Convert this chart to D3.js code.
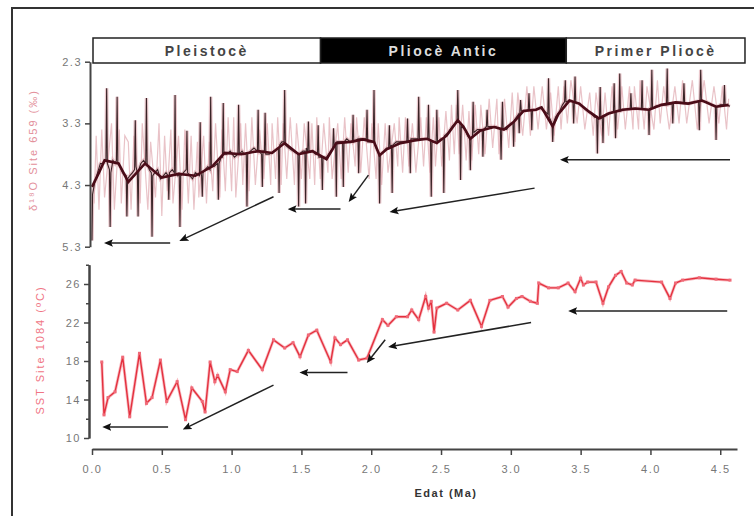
<!DOCTYPE html>
<html>
<head>
<meta charset="utf-8">
<script src="https://cdn.jsdelivr.net/npm/d3@7"></script>
<style>
body{margin:0;background:#fff;}
svg{display:block;font-family:"Liberation Sans",Arial,sans-serif;}
</style>
</head>
<body>
<svg id="canvas"></svg>
<script>
// periods in the banner (age edges in Ma)
let periodNames = ["Pleistocè", "Pliocè Antic", "Primer Pliocè"];
let periodEdges = [0, 1.63, 3.39, 4.67];
let periodFills = ["#fff", "#000", "#fff"];

let xTicks = [0, 0.5, 1.0, 1.5, 2.0, 2.5, 3.0, 3.5, 4.0, 4.5];
let d18oTicks = [2.3, 3.3, 4.3, 5.3];
let sstTicks = [10, 14, 18, 22, 26];
let sstMinorTicks = [12, 16, 20, 24, 28];

// benthic d18O record [age Ma, permil]
let d18oRaw = [
  [0.00,5.20],[0.004,4.45],[0.02,4.25],[0.04,4.10],[0.06,3.95],[0.08,3.95],
  [0.10,3.90],[0.105,2.73],[0.11,3.95],[0.125,4.05],[0.13,4.98],[0.135,4.10],
  [0.15,3.90],[0.165,3.95],[0.175,3.90],[0.18,2.87],[0.185,3.95],[0.20,4.00],[0.22,4.10],
  [0.245,4.15],[0.25,4.81],[0.255,4.20],[0.27,4.15],[0.29,4.10],
  [0.305,4.05],[0.31,3.25],[0.315,4.00],[0.325,4.10],[0.33,4.81],[0.335,4.05],
  [0.35,3.95],[0.37,3.90],[0.385,3.95],[0.39,2.89],[0.395,3.95],[0.41,4.05],
  [0.425,4.10],[0.43,5.14],[0.435,4.15],[0.45,4.10],[0.47,4.05],[0.49,4.20],
  [0.51,4.15],[0.53,4.10],[0.545,4.15],[0.55,4.54],[0.555,4.10],[0.575,4.05],
  [0.59,4.10],[0.595,2.84],[0.60,4.10],[0.615,4.15],[0.625,4.10],[0.63,4.98],[0.635,4.15],
  [0.655,4.10],[0.675,4.05],[0.68,3.42],[0.685,4.10],[0.70,4.15],[0.72,4.20],[0.74,4.10],
  [0.77,4.15],[0.775,3.28],[0.78,4.10],[0.785,4.15],[0.79,4.49],[0.795,4.10],
  [0.81,4.05],[0.83,4.00],[0.845,4.05],[0.85,2.87],[0.855,4.00],[0.875,4.00],
  [0.90,3.95],[0.905,4.54],[0.91,3.95],[0.925,3.85],[0.935,3.85],[0.94,2.97],[0.945,3.80],
  [0.965,3.80],[0.99,3.75],[1.02,3.85],[1.045,3.80],[1.05,3.00],[1.055,3.80],
  [1.075,3.75],[1.09,3.80],[1.105,3.80],[1.11,4.65],[1.115,3.80],[1.135,3.75],[1.16,3.70],
  [1.185,3.75],[1.19,3.08],[1.195,3.75],[1.215,3.80],[1.22,4.33],[1.225,3.75],
  [1.235,3.75],[1.24,3.13],[1.245,3.80],[1.27,3.80],[1.30,3.75],
  [1.335,3.70],[1.34,4.43],[1.345,3.65],[1.36,3.60],[1.375,3.60],[1.38,2.76],[1.385,3.65],
  [1.41,3.70],[1.44,3.75],[1.475,3.80],[1.48,4.65],[1.485,3.80],[1.51,3.75],
  [1.525,3.75],[1.53,4.60],[1.535,3.70],[1.545,3.75],[1.55,3.27],[1.555,3.75],
  [1.58,3.75],[1.60,3.80],[1.615,3.80],[1.62,3.33],[1.625,3.85],
  [1.645,3.85],[1.65,4.38],[1.655,3.85],[1.68,3.85],[1.71,3.75],
  [1.725,3.70],[1.73,3.38],[1.735,3.65],[1.745,3.65],[1.75,4.49],[1.755,3.60],[1.775,3.60],
  [1.795,3.60],[1.80,4.33],[1.805,3.60],[1.825,3.55],[1.85,3.60],
  [1.865,3.60],[1.87,3.16],[1.875,3.60],[1.905,3.55],[1.91,4.11],[1.915,3.55],[1.94,3.55],
  [1.965,3.55],[1.97,3.08],[1.975,3.60],[2.00,3.60],[2.015,3.60],[2.02,2.76],[2.025,3.65],
  [2.045,3.75],[2.055,3.80],[2.06,4.60],[2.065,3.80],[2.09,3.75],[2.11,3.70],
  [2.125,3.70],[2.13,3.33],[2.135,3.70],[2.145,3.65],[2.15,4.43],[2.155,3.65],
  [2.18,3.60],[2.21,3.60],[2.24,3.60],[2.255,3.60],[2.26,3.22],[2.265,3.60],
  [2.275,3.60],[2.28,4.11],[2.285,3.55],[2.31,3.55],[2.335,3.55],[2.34,2.87],[2.345,3.55],
  [2.37,3.55],[2.39,3.55],[2.405,3.55],[2.41,3.00],[2.415,3.55],[2.425,3.60],[2.43,4.49],[2.435,3.60],
  [2.455,3.60],[2.465,3.60],[2.47,3.08],[2.475,3.60],[2.50,3.55],[2.515,3.55],[2.52,4.43],[2.525,3.50],
  [2.55,3.45],[2.58,3.35],[2.60,3.30],[2.615,3.25],[2.62,2.76],[2.625,3.25],
  [2.635,3.30],[2.64,4.22],[2.645,3.35],[2.67,3.40],[2.69,3.50],
  [2.705,3.55],[2.71,4.06],[2.715,3.55],[2.725,3.50],[2.73,2.95],[2.735,3.45],
  [2.76,3.40],[2.78,3.40],[2.795,3.40],[2.80,3.84],[2.805,3.40],[2.825,3.35],[2.83,3.08],[2.835,3.35],
  [2.86,3.35],[2.89,3.35],[2.925,3.40],[2.93,3.89],[2.935,3.40],[2.94,2.95],[2.945,3.40],
  [2.97,3.40],[3.00,3.30],[3.015,3.30],[3.02,3.68],[3.025,3.25],[3.04,3.20],
  [3.055,3.15],[3.06,3.46],[3.065,3.10],[3.07,2.92],[3.075,3.10],[3.10,3.10],
  [3.125,3.08],[3.13,2.81],[3.135,3.08],[3.145,3.08],[3.15,3.41],[3.155,3.08],
  [3.18,3.08],[3.21,3.05],[3.24,3.10],[3.265,3.15],[3.27,2.57],[3.275,3.20],
  [3.295,3.30],[3.30,3.60],[3.305,3.30],[3.32,3.20],[3.35,3.10],[3.37,3.00],
  [3.385,2.95],[3.39,2.60],[3.395,2.95],[3.42,2.93],
  [3.445,2.95],[3.45,3.30],[3.455,2.95],[3.46,2.54],[3.465,2.97],
  [3.49,2.98],[3.52,3.05],[3.55,3.10],[3.58,3.15],[3.60,3.20],
  [3.615,3.20],[3.62,3.79],[3.625,3.22],[3.635,3.22],[3.64,2.71],[3.645,3.22],
  [3.655,3.20],[3.66,3.62],[3.665,3.20],[3.69,3.15],[3.72,3.12],
  [3.735,3.12],[3.74,2.65],[3.745,3.12],[3.75,3.54],[3.755,3.10],
  [3.775,3.10],[3.78,2.49],[3.785,3.10],[3.81,3.08],[3.84,3.07],
  [3.855,3.07],[3.86,2.81],[3.865,3.07],[3.90,3.06],
  [3.935,3.06],[3.94,2.60],[3.945,3.06],[3.965,3.07],
  [3.985,3.08],[3.99,3.49],[3.995,3.06],[4.005,3.05],[4.01,2.43],[4.015,3.05],
  [4.04,3.02],[4.08,3.00],[4.115,3.00],[4.12,2.41],[4.125,3.00],
  [4.155,2.98],[4.16,3.30],[4.165,2.97],[4.19,2.96],[4.22,2.96],
  [4.235,2.97],[4.24,2.65],[4.245,2.97],[4.28,2.98],[4.32,2.95],
  [4.345,2.94],[4.35,3.41],[4.355,2.94],[4.36,2.43],[4.365,2.94],
  [4.40,2.95],[4.44,3.00],[4.465,3.02],[4.47,3.57],[4.475,3.03],
  [4.50,3.00],[4.525,3.00],[4.53,2.68],[4.535,3.00],[4.57,3.02]
];

// second, paler d18O record behind the first
let d18oLight = [
  [0.015,4.6],[0.03,3.5],[0.05,4.7],[0.07,3.4],[0.09,4.5],[0.14,3.3],[0.16,4.7],[0.195,3.4],
  [0.21,4.6],[0.235,3.5],[0.26,3.6],[0.28,4.7],[0.30,3.5],[0.345,4.6],[0.36,3.3],[0.40,4.7],
  [0.42,3.6],[0.455,4.5],[0.48,3.3],[0.50,4.8],[0.52,3.5],[0.54,4.4],[0.565,3.4],[0.58,4.6],
  [0.62,3.5],[0.645,4.7],[0.665,3.4],[0.69,4.6],[0.71,3.5],[0.73,4.7],[0.755,3.6],[0.765,4.5],
  [0.80,3.5],[0.82,4.6],[0.84,3.6],[0.865,4.4],[0.885,3.3],[0.915,4.5],[0.93,3.4],[0.955,4.4],
  [0.975,3.2],[1.00,4.4],[1.015,3.2],[1.03,4.5],[1.065,3.3],[1.08,4.3],[1.10,3.3],[1.125,4.4],
  [1.145,3.2],[1.17,4.3],[1.20,3.4],[1.23,4.2],[1.255,3.3],[1.28,4.3],[1.29,3.3],[1.315,4.2],
  [1.33,3.2],[1.355,4.3],[1.37,3.3],[1.395,4.2],[1.42,3.2],[1.45,4.3],[1.465,3.3],[1.50,4.2],
  [1.52,3.3],[1.56,4.2],[1.575,3.3],[1.595,4.3],[1.61,3.2],[1.635,4.2],[1.66,3.3],[1.69,4.1],
  [1.70,3.2],[1.72,4.2],[1.76,3.3],[1.785,4.2],[1.81,3.2],[1.835,4.1],[1.855,3.3],[1.885,4.0],
  [1.895,3.2],[1.925,4.1],[1.95,3.2],[1.985,4.2],[2.005,3.3],[2.035,4.2],[2.05,3.3],[2.075,4.3],
  [2.10,3.3],[2.12,4.1],[2.165,3.3],[2.19,4.0],[2.20,3.2],[2.225,4.1],[2.245,3.2],[2.27,4.0],
  [2.295,3.3],[2.32,4.1],[2.355,3.2],[2.375,4.0],[2.395,3.2],[2.42,4.1],[2.445,3.2],[2.46,4.0],
  [2.485,3.2],[2.505,4.0],[2.535,3.1],[2.56,3.9],[2.575,3.0],[2.595,3.8],[2.61,3.0],[2.63,3.8],
  [2.655,3.0],[2.68,3.9],[2.70,3.1],[2.72,3.9],[2.745,3.0],[2.77,3.8],[2.785,3.0],[2.815,3.8],
  [2.845,2.9],[2.87,3.7],[2.90,2.9],[2.915,3.8],[2.955,2.9],[2.985,3.7],[3.01,2.8],[3.03,3.6],
  [3.05,2.8],[3.085,3.5],[3.115,2.7],[3.14,3.5],[3.165,2.7],[3.195,3.4],[3.225,2.7],[3.255,3.4],
  [3.285,2.8],[3.31,3.5],[3.34,2.7],[3.36,3.4],[3.38,2.7],[3.405,3.3],[3.43,2.6],[3.475,3.3],
  [3.50,2.7],[3.53,3.4],[3.565,2.8],[3.59,3.5],[3.61,2.8],[3.65,3.5],[3.675,2.8],[3.70,3.5],
  [3.725,2.7],[3.765,3.4],[3.795,2.7],[3.82,3.4],[3.85,2.7],[3.875,3.4],[3.885,2.7],[3.915,3.4],
  [3.925,2.6],[3.955,3.4],[3.975,2.7],[4.025,3.4],[4.05,2.6],[4.07,3.3],[4.095,2.7],[4.135,3.4],
  [4.175,2.7],[4.205,3.3],[4.23,2.6],[4.26,3.3],[4.30,2.6],[4.335,3.4],[4.385,2.6],[4.42,3.3],
  [4.455,2.7],[4.49,3.3],[4.515,2.7],[4.545,3.4],[4.56,2.9]
];

// smoothed d18O
let d18oSmooth = [
  [0.00,4.33],[0.05,4.10],[0.09,3.90],[0.19,3.95],[0.26,4.25],[0.38,3.95],[0.50,4.18],[0.62,4.12],
  [0.74,4.15],[0.86,4.00],[0.95,3.78],[1.07,3.80],[1.19,3.75],[1.29,3.78],[1.38,3.62],[1.48,3.80],
  [1.58,3.75],[1.68,3.88],[1.75,3.62],[1.85,3.60],[1.94,3.56],[2.02,3.60],[2.06,3.82],[2.11,3.72],
  [2.21,3.62],[2.30,3.58],[2.40,3.55],[2.47,3.62],[2.54,3.50],[2.62,3.25],[2.66,3.35],[2.71,3.55],
  [2.78,3.42],[2.88,3.36],[2.95,3.40],[3.02,3.28],[3.09,3.10],[3.18,3.08],[3.22,3.04],[3.30,3.35],
  [3.34,3.15],[3.42,2.93],[3.49,2.98],[3.56,3.11],[3.63,3.22],[3.70,3.14],[3.80,3.08],[3.89,3.06],
  [3.99,3.08],[4.08,3.00],[4.18,2.96],[4.27,2.98],[4.37,2.93],[4.47,3.03],[4.56,3.00]
];

// alkenone SST [age Ma, degC]
let sstData = [
  [0.07,17.9],[0.086,12.4],[0.115,14.2],[0.165,14.8],[0.22,18.4],[0.27,12.2],[0.34,18.8],[0.39,13.6],
  [0.43,14.2],[0.49,18.1],[0.535,13.8],[0.61,15.85],[0.67,11.9],[0.715,15.2],[0.79,13.8],[0.81,12.7],
  [0.846,17.9],[0.88,15.85],[0.90,16.5],[0.955,14.8],[0.99,17.1],[1.04,16.9],[1.12,19.1],[1.22,17.1],
  [1.30,20.2],[1.38,19.35],[1.44,19.9],[1.49,18.45],[1.55,20.7],[1.61,21.2],[1.71,17.9],[1.74,20.4],
  [1.78,19.7],[1.83,20.2],[1.91,18.1],[1.97,18.3],[2.08,22.3],[2.12,21.7],[2.18,22.6],[2.26,22.6],
  [2.29,23.3],[2.34,22.3],[2.39,24.7],[2.41,23.5],[2.43,24.2],[2.45,21.0],[2.47,23.5],[2.54,24.0],
  [2.62,23.3],[2.71,24.3],[2.79,21.6],[2.85,24.3],[2.94,24.7],[2.98,23.6],[3.04,24.5],[3.08,24.7],
  [3.14,24.2],[3.19,24.0],[3.20,26.1],[3.27,25.6],[3.34,25.6],[3.41,26.1],[3.46,25.2],[3.50,26.6],
  [3.52,25.9],[3.55,26.2],[3.61,26.2],[3.66,24.0],[3.70,25.7],[3.75,26.9],[3.79,27.3],[3.83,26.1],
  [3.87,25.9],[3.89,26.4],[4.08,26.2],[4.14,24.5],[4.18,26.1],[4.23,26.4],[4.35,26.65],[4.47,26.5],
  [4.57,26.4]
];

// arrows [tail age, tail value, head age, head value]
let d18oArrows = [
  [0.56,5.24,0.105,5.24],[1.30,4.49,0.643,5.19],[1.78,4.69,1.42,4.69],
  [1.98,4.14,1.85,4.54],[3.17,4.35,2.15,4.73],[4.57,3.89,3.37,3.89]
];
let sstArrows = [
  [0.545,11.14,0.093,11.14],[1.30,15.5,0.667,11.0],[1.83,16.8,1.505,16.8],
  [2.10,20.2,1.98,18.0],[3.145,22.0,2.14,19.5],[4.55,23.2,3.43,23.2]
];

let width = 754;
let height = 516;

let canvas = d3.select("#canvas");
canvas.attr("width", width);
canvas.attr("height", height);

let xScale = d3.scaleLinear().domain([0, 4.62]).range([92, 737]);
let yTop = d3.scaleLinear().domain([2.3, 5.3]).range([61.7, 246.7]);
let yBot = d3.scaleLinear().domain([10, 28]).range([438, 264.75]);

// outer frame
canvas.append("path")
      .attr("d", "M12," + height + "V8H" + width)
      .attr("fill", "none")
      .attr("stroke", "#333")
      .attr("stroke-width", 2);

let defs = canvas.append("defs");
defs.append("marker")
    .attr("id", "head")
    .attr("viewBox", "0 0 10 10")
    .attr("refX", 7).attr("refY", 5)
    .attr("markerWidth", 6).attr("markerHeight", 6)
    .attr("orient", "auto")
    .append("path")
    .attr("d", "M10,5L0,0.8L2,5L0,9.2Z")
    .attr("fill", "#111");

let drawBanner = () => {
    let g = canvas.append("g");
    let boxes = periodNames.map((n, i) => ({name: n, x0: periodEdges[i], x1: periodEdges[i + 1], fill: periodFills[i]}));
    g.selectAll("rect")
     .data(boxes)
     .enter()
     .append("rect")
     .attr("x", d => xScale(d.x0) + 1)
     .attr("y", 38)
     .attr("width", d => xScale(d.x1) - xScale(d.x0))
     .attr("height", 25)
     .attr("fill", d => d.fill)
     .attr("stroke", "#222")
     .attr("stroke-width", 1.5);
    g.selectAll("text")
     .data(boxes)
     .enter()
     .append("text")
     .attr("x", d => (xScale(d.x0) + xScale(d.x1)) / 2 + 1)
     .attr("y", 56)
     .attr("text-anchor", "middle")
     .attr("font-size", 14)
     .attr("font-weight", "bold")
     .attr("letter-spacing", "2.5px")
     .attr("fill", d => d.fill == "#000" ? "#ddd" : "#444")
     .text(d => d.name);
}

let drawTop = () => {
    let line = d3.line().x(d => xScale(d[0])).y(d => yTop(d[1]));
    canvas.append("path")
          .attr("d", line(d18oLight))
          .attr("fill", "none")
          .attr("stroke", "#e3b4ba")
          .attr("stroke-width", 1.2)
          .attr("opacity", 0.8);
    canvas.append("path")
          .attr("d", line(d18oRaw))
          .attr("fill", "none")
          .attr("stroke", "#dca4ab")
          .attr("stroke-width", 3.5)
          .attr("opacity", 0.6);
    canvas.append("path")
          .attr("d", line(d18oRaw))
          .attr("fill", "none")
          .attr("stroke", "#3a2427")
          .attr("stroke-width", 1.1);
    canvas.append("path")
          .attr("d", line(d18oSmooth))
          .attr("fill", "none")
          .attr("stroke", "#4a0c18")
          .attr("stroke-width", 2.6);
}

let drawBottom = () => {
    let line = d3.line().x(d => xScale(d[0])).y(d => yBot(d[1]));
    canvas.append("path")
          .attr("d", line(sstData))
          .attr("fill", "none")
          .attr("stroke", "#f28b95")
          .attr("stroke-width", 3)
          .attr("opacity", 0.6);
    canvas.append("path")
          .attr("d", line(sstData))
          .attr("fill", "none")
          .attr("stroke", "#e4303e")
          .attr("stroke-width", 1.4);
    canvas.append("g")
          .selectAll("rect")
          .data(sstData)
          .enter()
          .append("rect")
          .attr("x", d => xScale(d[0]) - 1.5)
          .attr("y", d => yBot(d[1]) - 1.5)
          .attr("width", 3)
          .attr("height", 3)
          .attr("fill", "#f06a78");
}

let drawArrows = (list, yScale) => {
    canvas.append("g")
          .selectAll("line")
          .data(list)
          .enter()
          .append("line")
          .attr("x1", d => xScale(d[0]))
          .attr("y1", d => yScale(d[1]))
          .attr("x2", d => xScale(d[2]))
          .attr("y2", d => yScale(d[3]))
          .attr("stroke", "#222")
          .attr("stroke-width", 1.5)
          .attr("marker-end", "url(#head)");
}

let styleAxis = (g) => {
    g.selectAll(".domain").attr("stroke", "#444").attr("stroke-width", 2);
    g.selectAll(".tick line").attr("stroke", "#444").attr("stroke-width", 1.5);
    g.selectAll("text")
     .attr("fill", "#777")
     .attr("font-size", 11)
     .attr("letter-spacing", "1.5px")
     .attr("font-family", "'Liberation Sans', Arial, sans-serif");
}

let drawAxes = () => {
    let topAxis = d3.axisLeft(yTop).tickValues(d18oTicks).tickFormat(d3.format(".1f")).tickSize(5).tickSizeOuter(0);
    canvas.append("g")
          .attr("transform", "translate(90,0)")
          .call(topAxis)
          .call(styleAxis);

    let botMinor = d3.axisLeft(yBot).tickValues(sstMinorTicks).tickFormat("").tickSize(3).tickSizeOuter(0);
    canvas.append("g")
          .attr("transform", "translate(89,0)")
          .call(botMinor)
          .call(styleAxis);
    let botAxis = d3.axisLeft(yBot).tickValues(sstTicks).tickFormat(d3.format("d")).tickSize(5).tickSizeOuter(0);
    canvas.append("g")
          .attr("transform", "translate(89,0)")
          .call(botAxis)
          .call(styleAxis);

    let xAxis = d3.axisBottom(xScale).tickValues(xTicks).tickFormat(d3.format(".1f")).tickSize(6).tickSizeOuter(0);
    canvas.append("g")
          .attr("transform", "translate(0,449)")
          .call(xAxis)
          .call(styleAxis)
          .selectAll("text")
          .attr("dy", "1.4em");

    canvas.append("text")
          .attr("x", 446)
          .attr("y", 497)
          .attr("text-anchor", "middle")
          .attr("font-size", 11)
          .attr("font-weight", "bold")
          .attr("letter-spacing", "1.5px")
          .attr("fill", "#333")
          .text("Edat (Ma)");

    canvas.append("text")
          .attr("transform", "translate(37,150) rotate(-90)")
          .attr("text-anchor", "middle")
          .attr("font-size", 11)
          .attr("letter-spacing", "2px")
          .attr("fill", "#e3909b")
          .text("δ¹⁸O Site 659 (‰)");

    canvas.append("text")
          .attr("transform", "translate(44,350) rotate(-90)")
          .attr("text-anchor", "middle")
          .attr("font-size", 11)
          .attr("letter-spacing", "2px")
          .attr("fill", "#f07584")
          .text("SST Site 1084 (ºC)");
}

drawBanner();
drawTop();
drawBottom();
drawArrows(d18oArrows, yTop);
drawArrows(sstArrows, yBot);
drawAxes();
</script>
</body>
</html>
